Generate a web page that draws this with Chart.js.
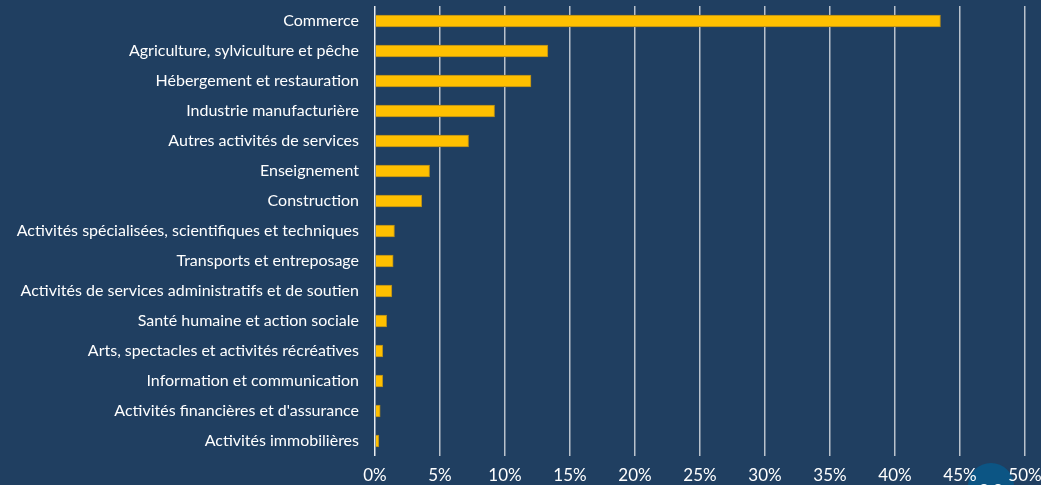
<!DOCTYPE html>
<html>
<head>
<meta charset="utf-8">
<script src="https://cdn.jsdelivr.net/npm/chart.js@4"></script>
<style>
  html, body { margin: 0; padding: 0; background: #203f61; }
  #wrap { position: relative; width: 1041px; height: 485px; }
</style>
</head>
<body>
<div id="wrap"><canvas id="chart" width="1041" height="485"></canvas></div>
<script>
// Répartition par secteur d'activité (%)
const categories = [
  "Commerce",
  "Agriculture, sylviculture et pêche",
  "Hébergement et restauration",
  "Industrie manufacturière",
  "Autres activités de services",
  "Enseignement",
  "Construction",
  "Activités spécialisées, scientifiques et techniques",
  "Transports et entreposage",
  "Activités de services administratifs et de soutien",
  "Santé humaine et action sociale",
  "Arts, spectacles et activités récréatives",
  "Information et communication",
  "Activités financières et d'assurance",
  "Activités immobilières"
];
const shares = [43.5, 13.3, 12.0, 9.2, 7.2, 4.2, 3.6, 1.5, 1.4, 1.3, 0.9, 0.6, 0.6, 0.4, 0.3];
const tickValues = [0, 5, 10, 15, 20, 25, 30, 35, 40, 45, 50];

const FONT = "Lato, 'Open Sans', sans-serif";

// Small round badge in the lower right corner, painted under the axis labels
const badge = {
  id: 'badge',
  beforeDraw(chart) {
    const c = chart.ctx;
    c.save();
    c.fillStyle = '#0c5584';
    c.beginPath();
    c.arc(991, 486, 23, 0, Math.PI * 2);
    c.fill();
    c.fillStyle = '#ffffff';
    c.beginPath();
    c.arc(984, 488, 4, Math.PI, Math.PI * 2);
    c.arc(998, 488, 4, Math.PI, Math.PI * 2);
    c.fill();
    c.restore();
  }
};

new Chart(document.getElementById('chart'), {
  type: 'bar',
  data: {
    labels: categories,
    datasets: [{
      data: shares,
      backgroundColor: '#ffc000',
      borderColor: '#b08a1c',
      borderWidth: { top: 1, right: 1, bottom: 1, left: 0 },
      borderSkipped: 'left',
      barThickness: 12
    }]
  },
  options: {
    indexAxis: 'y',
    responsive: false,
    animation: false,
    layout: { padding: { top: 6, right: 16, left: 0, bottom: 0 } },
    plugins: { legend: { display: false }, tooltip: { enabled: false } },
    scales: {
      x: {
        min: 0,
        max: 50,
        afterBuildTicks(scale) { scale.ticks = tickValues.map(v => ({ value: v })); },
        afterFit(scale) {
          scale.height = 29;
          scale.paddingLeft = 0;
          scale.paddingRight = 0;
        },
        border: { display: false },
        grid: {
          drawTicks: false,
          color: ctx => ctx.tick && ctx.tick.value === 0 ? '#e8ecf0' : '#b9c2cc',
          lineWidth: 1.5
        },
        ticks: {
          color: '#ffffff',
          padding: 9,
          font: { family: FONT, size: 17 },
          callback: v => v + '%',
          maxRotation: 0
        }
      },
      y: {
        afterFit(scale) {
          scale.width = 375;
          scale.paddingTop = 0;
          scale.paddingBottom = 0;
        },
        border: { display: false },
        grid: { display: false, drawTicks: false },
        ticks: {
          color: '#ffffff',
          padding: 16,
          font: { family: FONT, size: 16 }
        }
      }
    }
  },
  plugins: [badge]
});
</script>
</body>
</html>
